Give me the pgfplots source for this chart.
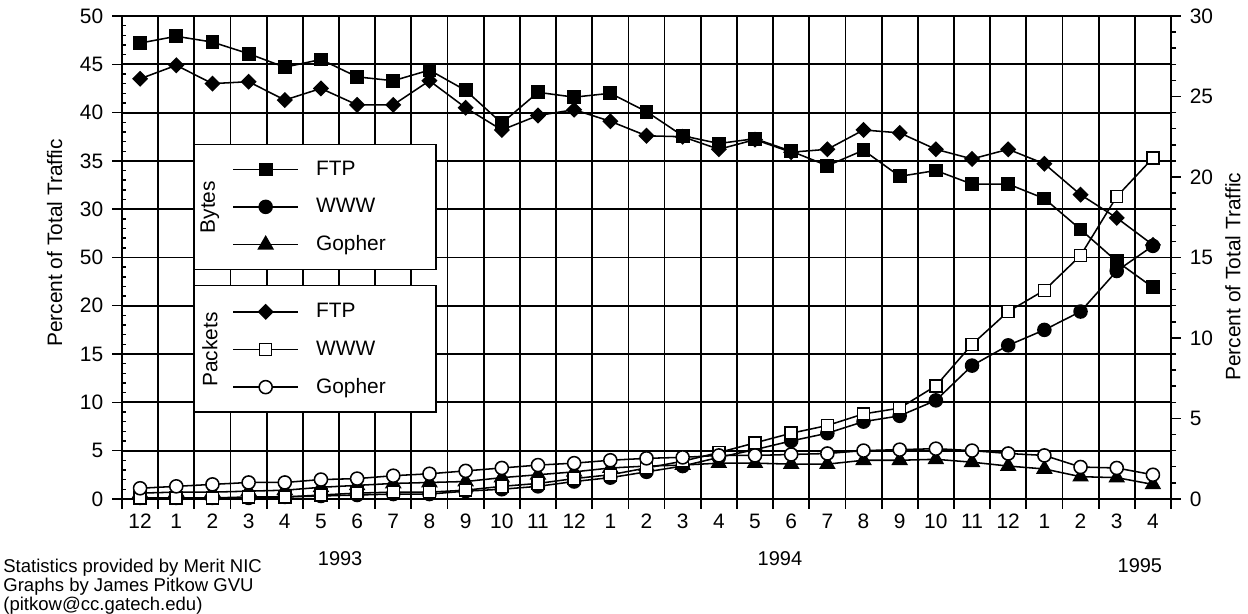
\documentclass[border=0pt]{standalone}
\usepackage{fontspec}
\setmainfont{Liberation Sans}
\usepackage{pgfplots}
\pgfplotsset{compat=1.18}
\usepackage{pgfplotstable}
\newcommand\ff{\fontsize{11.5}{13.8}\selectfont}
\newcommand\fs{\fontsize{10.2}{10.3}\selectfont}

\pgfplotstableread{
i  bftp bwww bgop pftp pwww pgop
0  47.2 0.1  0.6  43.5 0.1  1.1
1  47.9 0.1  0.7  44.9 0.1  1.3
2  47.3 0.1  0.7  43.0 0.1  1.5
3  46.1 0.1  0.8  43.2 0.2  1.7
4  44.7 0.2  0.9  41.3 0.2  1.7
5  45.5 0.3  1.2  42.5 0.4  2.0
6  43.7 0.4  1.4  40.8 0.6  2.1
7  43.3 0.5  1.6  40.8 0.7  2.4
8  44.4 0.5  1.7  43.3 0.7  2.6
9  42.3 0.8  1.8  40.5 0.9  2.9
10 38.9 1.0  2.2  38.2 1.3  3.2
11 42.1 1.3  2.5  39.7 1.6  3.5
12 41.6 1.8  2.8  40.3 2.1  3.7
13 42.0 2.2  3.2  39.1 2.5  4.0
14 40.1 2.8  3.4  37.6 3.2  4.2
15 37.6 3.4  3.5  37.5 3.9  4.3
16 36.8 4.3  3.7  36.2 4.8  4.5
17 37.3 5.1  3.7  37.2 5.8  4.5
18 36.0 6.0  3.6  35.9 6.8  4.6
19 34.5 6.8  3.6  36.2 7.6  4.7
20 36.1 8.0  4.0  38.2 8.8  5.0
21 33.4 8.6  4.0  37.9 9.4  5.1
22 34.0 10.2 4.1  36.2 11.7 5.2
23 32.6 13.8 3.8  35.2 16.0 5.0
24 32.6 15.9 3.4  36.2 19.4 4.7
25 31.1 17.5 3.1  34.7 21.6 4.5
26 27.9 19.4 2.3  31.5 25.2 3.3
27 24.6 23.6 2.2  29.1 31.3 3.2
28 21.9 26.2 1.5  26.3 35.3 2.5
}\data

\begin{document}
\begin{tikzpicture}
\pgfplotsset{
  base/.style={width=20.29cm, height=9.34cm, scale only axis,
    xmin=-0.5, xmax=28.5, ymin=0, ymax=50, clip=false,
    tick label style={font=\ff}},
  ser/.style={black, line width=0.85pt, mark options={solid, line width=0.8pt}},
  leg/.style={
    legend image code/.code={\draw[mark repeat=2,mark phase=2,##1] plot coordinates {(0cm,0cm) (0.63cm,0cm) (1.26cm,0cm)};},
    legend cell align=left,
    legend style={draw=none, fill=none, inner sep=0pt, column sep=0.33cm, row sep=11.2pt,
      nodes={inner sep=0pt}, font=\ff}},
}
% vertical grid and bottom ticks
\begin{axis}[base, name=C,
  xtick={-0.5,0.5,...,28.5}, xticklabels={}, ytick=\empty,
  xmajorgrids, grid style={black, line width=1pt},
  tick align=outside, major tick length=0.19cm, xtick pos=bottom,
  axis line style={draw=none}, tick style={black, line width=1pt}]
\end{axis}
% Bytes + left axis
\begin{axis}[base, name=A, leg,
  xtick={0,...,28},
  xticklabels={12,1,2,3,4,5,6,7,8,9,10,11,12,1,2,3,4,5,6,7,8,9,10,11,12,1,2,3,4},
  x tick style={draw=none},
  ytick={0,5,...,50},
  yticklabels={0,5,10,15,20,50,30,35,40,45,50},
  minor y tick num=4,
  ymajorgrids, grid style={black, line width=1pt},
  tick align=outside, major tick length=0.19cm, minor tick length=0.07cm,
  minor tick style={xshift=0.07cm},
  ytick pos=left, xtick pos=bottom,
  axis line style={black, line width=1pt}, tick style={black, line width=0.8pt},
  yticklabel style={xshift=-0.05cm},
  xticklabel style={yshift=0.02cm},
  ylabel={Percent of Total Traffic},
  every axis y label/.style={at={(rel axis cs:-0.0641,0.53)}, rotate=90, anchor=center, font=\ff},
  legend style={at={(axis cs:2.54,30.2)}, anchor=west}]
\addplot[ser, mark=square*, mark size=2.7pt, mark options={rotate=45}, forget plot] table[x=i,y=pftp]{\data};
\addplot[ser, mark=square*, mark size=3.4pt] table[x=i,y=bftp]{\data};
\addplot[ser, mark=*, mark size=3.6pt] table[x=i,y=bwww]{\data};
\addplot[ser, mark=triangle*, mark size=4.5pt] table[x=i,y=bgop]{\data};
\legend{FTP,WWW,Gopher}
\draw[fill=white, line width=0.8pt] (axis cs:1.49,23.75) rectangle (axis cs:8.18,36.7);
\draw[fill=white, line width=0.8pt] (axis cs:1.49,9.02) rectangle (axis cs:8.18,22.1);
\node[rotate=90, font=\ff] at (axis cs:1.93,30.2) {Bytes};
\node[rotate=90, font=\ff] at (axis cs:1.93,15.45) {Packets};
\node[font=\fontsize{11}{13}\selectfont] at ([yshift=-1.16cm]axis cs:5.53,0) {1993};
\node[font=\fontsize{11}{13}\selectfont] at ([yshift=-1.16cm]axis cs:17.69,0) {1994};
\node[font=\fontsize{11}{13}\selectfont] at ([yshift=-1.30cm]axis cs:27.64,0) {1995};
\node[anchor=north west, align=left, inner sep=0pt, font=\fs] at ([yshift=-1.16cm]axis cs:-3.79,0) {Statistics provided by Merit NIC\\Graphs by James Pitkow GVU\\(pitkow@cc.gatech.edu)};
\end{axis}
% Packets + right axis
\begin{axis}[base, name=B, leg,
  axis y line*=right, axis x line=none,
  ytick={0,8.33333,16.66667,25,33.33333,41.66667,50},
  yticklabels={0,5,10,15,20,25,30},
  minor ytick={1.66667,3.33333,5,6.66667,10,11.66667,13.33333,15,18.33333,20,21.66667,23.33333,26.66667,28.33333,30,31.66667,35,36.66667,38.33333,40,43.33333,45,46.66667,48.33333},
  tick align=outside, major tick length=0.19cm, minor tick length=0.1cm,
  axis line style={black, line width=1pt}, tick style={black, line width=0.8pt},
  yticklabel style={xshift=0.05cm},
  ylabel={Percent of Total Traffic},
  every axis y label/.style={at={(rel axis cs:1.0591,0.46)}, rotate=90, anchor=center, font=\ff},
  legend style={at={(axis cs:2.54,15.45)}, anchor=west}]
\addlegendimage{ser, mark=square*, mark size=2.7pt, mark options={rotate=45}}
\addplot[ser, mark=square*, mark size=3.3pt, mark options={fill=white}] table[x=i,y=pwww]{\data};
\addplot[ser, mark=*, mark size=3.6pt, mark options={fill=white}] table[x=i,y=pgop]{\data};
\legend{FTP,WWW,Gopher}
\end{axis}
\path ([shift={(-2.36cm,-2.13cm)}]A.south west) rectangle ([shift={(1.49cm,0.31cm)}]A.north east);
\end{tikzpicture}
\end{document}
